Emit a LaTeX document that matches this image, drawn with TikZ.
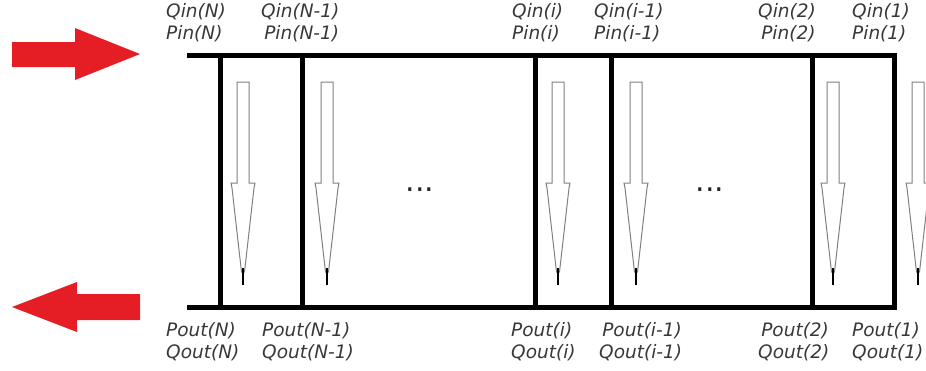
\documentclass[tikz,border=0pt]{standalone}
\usepackage{fontspec}
\setmainfont{DejaVu Sans}
\begin{document}
\begin{tikzpicture}[x=1pt,y=-1pt,
  lbl/.style={font=\fontsize{18.5}{22}\selectfont\itshape, text=black!78, align=left, inner sep=0pt, anchor=base west},
  dotslbl/.style={font=\fontsize{30}{32}\selectfont, text=black!85, inner sep=0pt, anchor=base},
  wall/.style={line width=5pt, black, line join=miter},
  flow/.style={draw=black!50, line width=1pt, fill=white},
  bigarrow/.style={fill={rgb,255:red,228;green,30;blue,36}, draw=none}]
\useasboundingbox (0,0) rectangle (926,370);
% red arrows
\fill[bigarrow] (12,42) -- (75,42) -- (75,28) -- (140,54) -- (75,80) -- (75,67) -- (12,67) -- cycle;
\fill[bigarrow] (12,307) -- (77,282) -- (77,294) -- (140,294) -- (140,320) -- (77,320) -- (77,332) -- cycle;
% named corners
\coordinate (tl) at (187,55);
\coordinate (tr) at (894,55);
\coordinate (br) at (894,307);
\coordinate (bl) at (187,307);
\draw[wall] (tl) -- (tr) -- (br) -- (bl);
\foreach \x/\n in {220/a,302/b,535/c,611/d,812/e}{
  \coordinate (\n t) at (\x,55);
  \coordinate (\n b) at (\x,307);
  \draw[wall] (\n t) -- (\n b);
}
% small flow arrows
\foreach \c in {243,327,558,636,833,918}{
  \draw[flow] (\c-6,82) -- (\c+6,82) -- (\c+6,183) -- (\c+12,183) -- (\c+11,188) -- (\c+1.5,272) -- (\c-1.5,272) -- (\c-11,188) -- (\c-12,183) -- (\c-6,183) -- cycle;
  \draw[black, line width=1.6pt] (\c,268) -- (\c,285);
}
% dots
\node[dotslbl] (dots1) at (420,191) {...};
\node[dotslbl] (dots2) at (710,191) {...};
% top labels
\node[lbl] (tN) at (166,39) {Qin(N)\\Pin(N)};
\node[lbl] (tN1) at (261,39) {Qin(N-1)\\\,Pin(N-1)};
\node[lbl] (ti) at (512,39) {Qin(i)\\Pin(i)};
\node[lbl] (ti1) at (594,39) {Qin(i-1)\\Pin(i-1)};
\node[lbl] (t2) at (758,39) {Qin(2)\\\,Pin(2)};
\node[lbl] (t1) at (852,39) {Qin(1)\\Pin(1)};
% bottom labels
\node[lbl] (bN) at (166,358) {Pout(N)\\Qout(N)};
\node[lbl] (bN1) at (262,358) {Pout(N-1)\\Qout(N-1)};
\node[lbl] (bi) at (511,358) {Pout(i)\\Qout(i)};
\node[lbl] (bi1) at (599,358) {\,Pout(i-1)\\Qout(i-1)};
\node[lbl] (b2) at (758,358) {\,Pout(2)\\Qout(2)};
\node[lbl] (b1) at (852,358) {Pout(1)\\Qout(1)};
\end{tikzpicture}
\end{document}
